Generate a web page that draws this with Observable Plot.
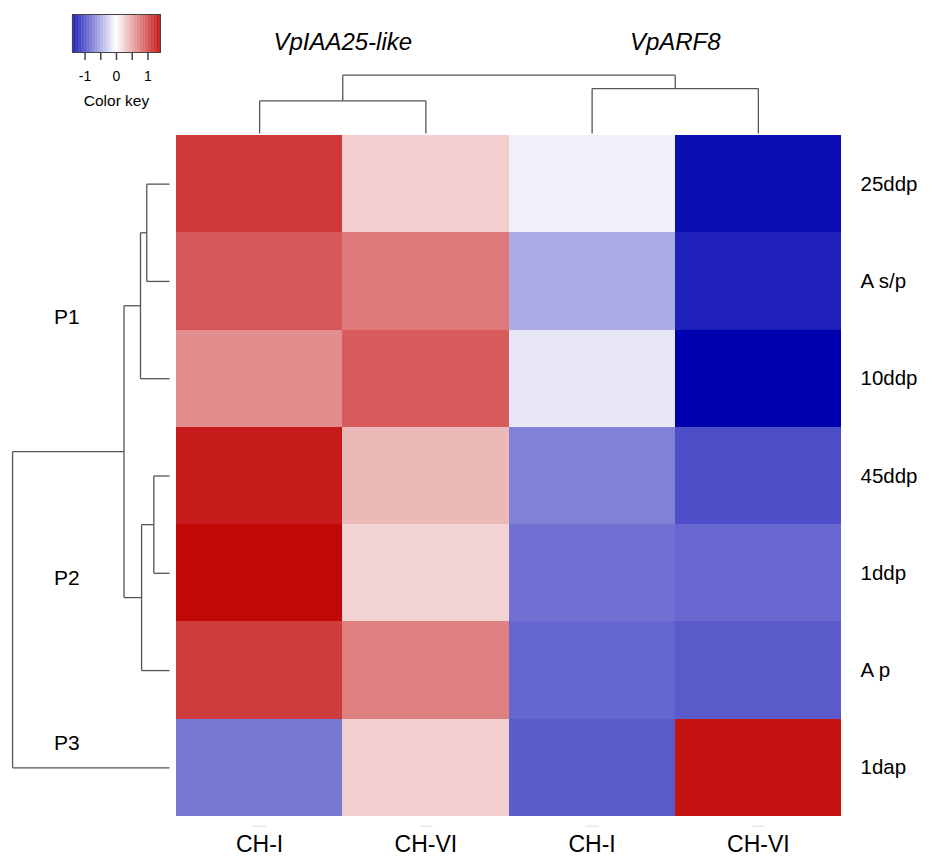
<!DOCTYPE html>
<html>
<head>
<meta charset="utf-8">
<script src="https://cdn.jsdelivr.net/npm/d3@7"></script>
<script src="https://cdn.jsdelivr.net/npm/@observablehq/plot@0.6"></script>
<style>
  html, body { margin: 0; padding: 0; background: #fff; }
  #wrap { position: relative; width: 935px; height: 858px; overflow: hidden; }
  #wrap > svg, #wrap > figure { position: absolute; top: 0; left: 0; margin: 0; }
</style>
</head>
<body>
<div id="wrap"></div>
<script>
// ---------------- data ----------------
const colLabels = ["CH-I", "CH-VI", "CH-I", "CH-VI"];
const geneLabels = ["VpIAA25-like", "VpARF8"];
const geneOfCol = [0, 0, 1, 1];
const rowLabels = ["25ddp", "A s/p", "10ddp", "45ddp", "1ddp", "A p", "1dap"];

// z-scored expression per column (row order as rowLabels)
const iaa25_CHI  = [1.08, 0.92, 0.62, 1.25, 1.36, 1.07, -0.74];
const iaa25_CHVI = [0.27, 0.73, 0.90, 0.39, 0.24, 0.69, 0.27];
const arf8_CHI   = [-0.08, -0.46, -0.13, -0.69, -0.78, -0.84, -0.90];
const arf8_CHVI  = [-1.33, -1.23, -1.40, -0.97, -0.83, -0.90, 1.30];
const seriesByCol = [iaa25_CHI, iaa25_CHVI, arf8_CHI, arf8_CHVI];

// hclust-style merges (negative = leaf index, 1-based; positive = earlier merge)
const rowMerge = [[-1, -2], [1, -3], [-4, -5], [3, -6], [2, 4], [5, -7]];
const rowHeights = [0.145, 0.185, 0.10, 0.178, 0.29, 1.0];
const colMerge = [[-1, -2], [-3, -4], [1, 2]];
const colHeights = [0.56, 0.77, 1.0];

const groupLabels = ["P1", "P2", "P3"];
const keyTicks = [-1, -0.5, 0, 0.5, 1];
const keyLimit = 1.4;

// ---------------- helpers ----------------
const FONT = "'Liberation Sans', Arial, Helvetica, sans-serif";
const colorScale = {
  type: "linear",
  domain: [-keyLimit, 0, keyLimit],
  range: ["#0000b0", "#ffffff", "#c00000"],
  interpolate: d3.interpolateRgb
};

// build elbow segments from a merge table: returns {p1,h1,p2,h2}
function dendroSegments(merge, heights) {
  const pos = [], segs = [];
  const P = id => id < 0 ? (-id - 1) + 0.5 : pos[id - 1];
  const H = id => id < 0 ? 0 : heights[id - 1];
  merge.forEach(([a, b], k) => {
    const h = heights[k], pa = P(a), pb = P(b);
    segs.push({p1: pa, h1: H(a), p2: pa, h2: h});
    segs.push({p1: pa, h1: h, p2: pb, h2: h});
    segs.push({p1: pb, h1: h, p2: pb, h2: H(b)});
    pos.push((pa + pb) / 2);
  });
  return segs;
}

// layout (scale units): left tree sits left of column 0, top tree above row 0
const leftLeaf = -0.042, leftSpan = 0.944;
const topLeaf = -0.02, topSpan = 0.60;
const lx = h => leftLeaf - h * leftSpan;
const ty = h => topLeaf - h * topSpan;

const cells = [];
seriesByCol.forEach((vals, c) => vals.forEach((v, r) => cells.push({col: c, row: r, value: v})));

const rowSegs = dendroSegments(rowMerge, rowHeights);
const colSegs = dendroSegments(colMerge, colHeights);

const genes = geneLabels.map((g, i) => {
  const cs = geneOfCol.map((gi, c) => gi === i ? c : null).filter(c => c !== null);
  return {label: g, x: d3.mean(cs) + 0.5};
});
const groupRows = [[0, 1, 2], [3, 4, 5], [6]];
const groupShift = [0.37, 0.05, -0.25];
const groups = groupLabels.map((g, i) => ({label: g, y: d3.mean(groupRows[i]) + 0.5 + groupShift[i]}));

const main = Plot.plot({
  width: 935,
  height: 858,
  marginLeft: 176,
  marginRight: 94,
  marginTop: 135,
  marginBottom: 42,
  style: {fontFamily: FONT, background: "white", color: "#000"},
  x: {domain: [0, 4], axis: null},
  y: {domain: [0, 7], reverse: true, axis: null},
  color: colorScale,
  marks: [
    Plot.rect(cells, {x1: d => d.col, x2: d => d.col + 1, y1: d => d.row, y2: d => d.row + 1, fill: "value", shapeRendering: "crispEdges"}),
    Plot.link(rowSegs, {x1: d => lx(d.h1), y1: "p1", x2: d => lx(d.h2), y2: "p2", stroke: "#555", strokeWidth: 1.3}),
    Plot.link(colSegs, {x1: "p1", y1: d => ty(d.h1), x2: "p2", y2: d => ty(d.h2), stroke: "#555", strokeWidth: 1.3}),
    Plot.axisX({anchor: "bottom", ticks: colLabels.map((_, i) => i + 0.5), tickFormat: d => colLabels[Math.floor(d)], tickSize: 0, tickPadding: 19, fontSize: 23, label: null}),
    Plot.link(colLabels, {x1: (_, i) => i + 0.46, x2: (_, i) => i + 0.54, y1: 7.1, y2: 7.1, stroke: "#dddddd", strokeWidth: 1}),
    Plot.axisY({anchor: "right", ticks: rowLabels.map((_, i) => i + 0.5), tickFormat: d => rowLabels[Math.floor(d)], tickSize: 0, tickPadding: 19, fontSize: 20.5, label: null}),
    Plot.text(genes, {x: "x", y: -0.955, text: "label", fontSize: 24, fontStyle: "italic", fill: "#000"}),
    Plot.text(groups, {x: -0.66, y: "y", text: "label", fontSize: 21, fill: "#000"})
  ]
});
document.getElementById("wrap").appendChild(main);

// ---------------- color key ----------------
const keySteps = d3.range(0, 120).map(i => -keyLimit + (i + 0.5) * (2 * keyLimit / 120));
const keyStep = 2 * keyLimit / 120;
const key = Plot.plot({
  width: 200,
  height: 115,
  marginLeft: 72,
  marginRight: 40,
  marginTop: 14,
  marginBottom: 63,
  style: {fontFamily: FONT, background: "transparent", color: "#000", overflow: "visible"},
  x: {domain: [-keyLimit, keyLimit], axis: null},
  y: {domain: [0, 1], reverse: true, axis: null},
  color: colorScale,
  marks: [
    Plot.rect(keySteps, {x1: d => d - keyStep / 2 - 0.002, x2: d => d + keyStep / 2 + 0.002, y1: 0, y2: 1, fill: d => d}),
    Plot.frame({stroke: "#444", strokeWidth: 1}),
    Plot.axisX({anchor: "bottom", ticks: keyTicks, tickFormat: d => Number.isInteger(d) ? String(d) : "", tickSize: 8, tickPadding: 11, fontSize: 14, stroke: "#444", strokeWidth: 1.5, label: null}),
    Plot.text(["Color key"], {x: 0, y: 2.27, text: d => d, fontSize: 15.5, fill: "#000"})
  ]
});
document.getElementById("wrap").appendChild(key);
</script>
</body>
</html>
